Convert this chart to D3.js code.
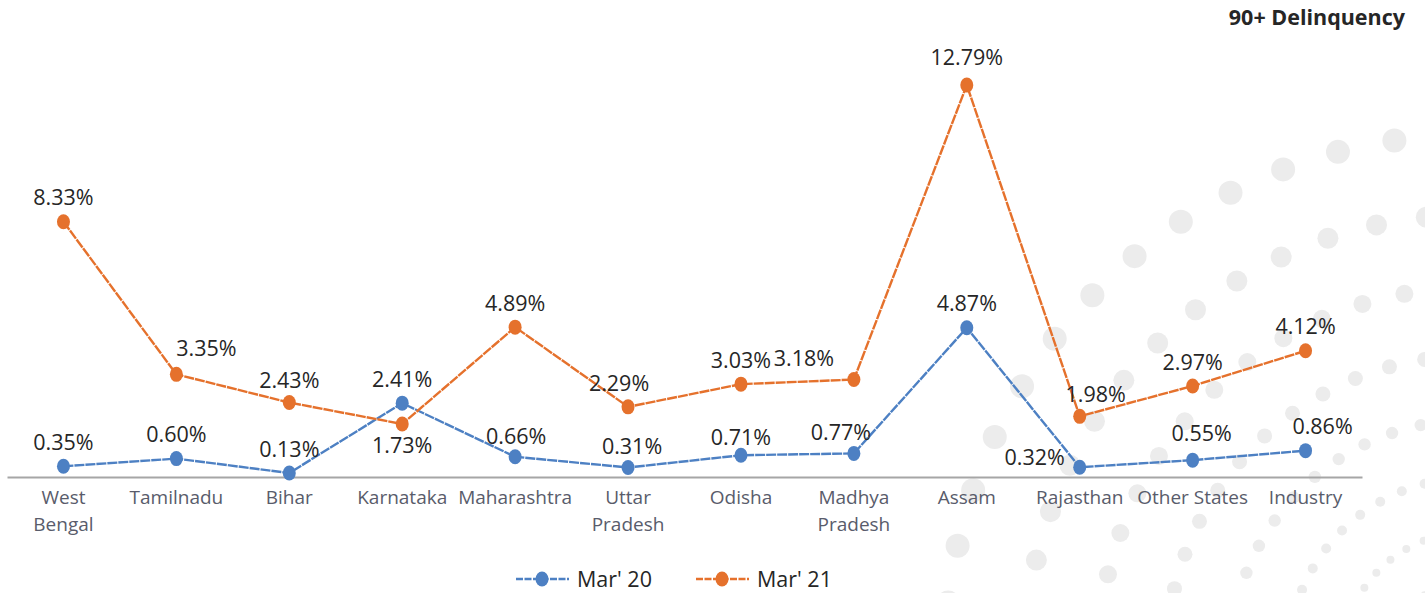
<!DOCTYPE html>
<html>
<head>
<meta charset="utf-8">
<script src="https://cdn.jsdelivr.net/npm/d3@7"></script>
<style>
  body { margin: 0; background: #fff; }
  svg { display: block; font-family: 'Open Sans', sans-serif; }
</style>
</head>
<body>
<div id="chart"></div>
<script>
var width = 1425, height = 593;

// chart data
var categories = ['West\nBengal', 'Tamilnadu', 'Bihar', 'Karnataka', 'Maharashtra', 'Uttar\nPradesh',
  'Odisha', 'Madhya\nPradesh', 'Assam', 'Rajasthan', 'Other States', 'Industry'];
var mar20 = [0.35, 0.60, 0.13, 2.41, 0.66, 0.31, 0.71, 0.77, 4.87, 0.32, 0.55, 0.86];
var mar21 = [8.33, 3.35, 2.43, 1.73, 4.89, 2.29, 3.03, 3.18, 12.79, 1.98, 2.97, 4.12];
var seriesNames = ["Mar' 20", "Mar' 21"];
var title = '90+ Delinquency';

var colors = ['#4d80c3', '#e5712c'];

// small nudges for the data labels that sit off-centre: [dx, dy]
var nudge = [
  { 4: [1, 4], 5: [4, 3], 6: [0, 6], 7: [-13, 3], 9: [-45, 14], 10: [9, -3], 11: [17, 0] },
  { 1: [30, -2], 2: [0, 2], 3: [0, 45], 5: [-9, 1], 7: [-50, 3], 8: [0, -4], 9: [16, 2] }
];

var svg = d3.select('#chart').append('svg')
  .attr('width', width)
  .attr('height', height);

// decorative fan of grey dots in the lower right corner
var deco = svg.append('g').attr('fill', '#ececec');
var rings = [[525, 12], [445, 10.5], [372, 9], [304, 7.5], [240, 6.2], [182, 5], [128, 4], [80, 3.2]];
rings.forEach(function(r) {
  var step = (r[1] * 4.8) / r[0];
  for (var a = Math.PI; a < Math.PI * 1.56; a += step) {
    deco.append('circle')
      .attr('cx', 1470 + r[0] * Math.cos(a))
      .attr('cy', 660 + r[0] * Math.sin(a))
      .attr('r', r[1]);
  }
});

var x = d3.scaleBand().domain(categories).range([7, 1362]);
var y = d3.scaleLinear().domain([0, 14]).range([477, 48]);

// x axis
var axis = svg.append('g')
  .attr('transform', 'translate(0,' + y(0) + ')')
  .call(d3.axisBottom(x).tickSize(0).tickSizeOuter(0));
axis.select('.domain').attr('stroke', '#a6a6a6').attr('stroke-width', 2);
axis.selectAll('.tick text').each(function(d) {
  var t = d3.select(this).text(null)
    .attr('y', 20).attr('dy', null)
    .attr('font-size', 19).attr('fill', '#595c6b')
    .style('font-family', "'Open Sans', sans-serif");
  d.split('\n').forEach(function(line, i) {
    t.append('tspan').attr('x', 0).attr('y', 20 + i * 27).attr('dy', '0.35em').text(line);
  });
});

var line = d3.line()
  .x(function(d, i) { return x(categories[i]) + x.bandwidth() / 2; })
  .y(function(d) { return y(d); });

[mar20, mar21].forEach(function(values, s) {
  var g = svg.append('g');
  g.append('path')
    .datum(values)
    .attr('d', line)
    .attr('fill', 'none')
    .attr('stroke', colors[s])
    .attr('stroke-width', 2.4)
    .attr('stroke-dasharray', '10,1');

  g.selectAll('ellipse')
    .data(values)
    .enter().append('ellipse')
    .attr('cx', function(d, i) { return x(categories[i]) + x.bandwidth() / 2; })
    .attr('cy', function(d) { return y(d); })
    .attr('rx', 6.5)
    .attr('ry', 7.5)
    .attr('fill', colors[s]);
});

// data labels on top of both lines
[mar20, mar21].forEach(function(values, s) {
  svg.append('g').selectAll('text')
    .data(values)
    .enter().append('text')
    .attr('x', function(d, i) {
      var n = nudge[s][i] || [0, 0];
      return x(categories[i]) + x.bandwidth() / 2 + n[0];
    })
    .attr('y', function(d, i) {
      var n = nudge[s][i] || [0, 0];
      return y(d) - 24 + n[1];
    })
    .attr('dy', '0.35em')
    .attr('text-anchor', 'middle')
    .attr('font-size', 21.5)
    .attr('fill', '#262626')
    .text(function(d) { return d.toFixed(2) + '%'; });
});

// title
svg.append('text')
  .attr('x', 1405)
  .attr('y', 17)
  .attr('dy', '0.35em')
  .attr('text-anchor', 'end')
  .attr('font-size', 21.5)
  .attr('font-weight', 700)
  .attr('fill', '#262626')
  .text(title);

// legend
var legend = svg.append('g').selectAll('g')
  .data(seriesNames)
  .enter().append('g')
  .attr('transform', function(d, i) { return 'translate(' + (516 + i * 180) + ',579)'; });
legend.append('line')
  .attr('x1', 0).attr('x2', 53)
  .attr('stroke', function(d, i) { return colors[i]; })
  .attr('stroke-width', 2.4)
  .attr('stroke-dasharray', '7,1.5');
legend.append('ellipse')
  .attr('cx', 26).attr('rx', 6.5).attr('ry', 7.5)
  .attr('fill', function(d, i) { return colors[i]; });
legend.append('text')
  .attr('x', 61)
  .attr('dy', '0.35em')
  .attr('font-size', 21.5)
  .attr('fill', '#262626')
  .text(function(d) { return d; });
</script>
</body>
</html>
